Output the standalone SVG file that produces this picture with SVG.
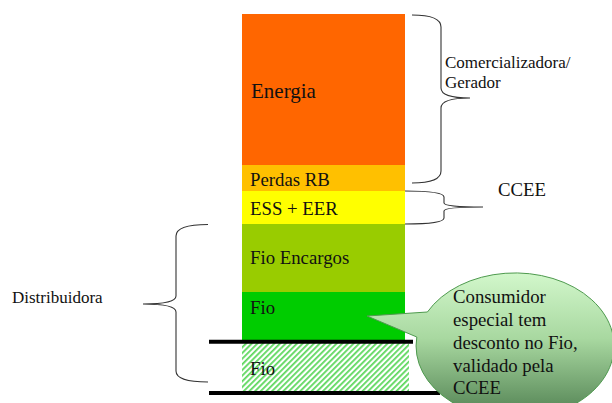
<svg xmlns="http://www.w3.org/2000/svg" width="612" height="403" viewBox="0 0 612 403">
<defs>
<pattern id="hatch" width="4" height="4" patternUnits="userSpaceOnUse" patternTransform="rotate(45)">
<rect width="4" height="4" fill="#ffffff"/>
<rect width="1.8" height="4" fill="#5ed85e"/>
</pattern>
<linearGradient id="bubble" gradientUnits="userSpaceOnUse" x1="0" y1="273" x2="0" y2="419">
<stop offset="0" stop-color="#d2f7cb"/>
<stop offset="0.45" stop-color="#a8d8a0"/>
<stop offset="1" stop-color="#4f7f50"/>
</linearGradient>
</defs>
<rect width="612" height="403" fill="#fff"/>
<g id="energia"><rect x="242" y="14" width="163" height="151" fill="#ff6600"/><text x="251" y="97.5" font-size="21" font-family="Liberation Serif" fill="#111">Energia</text></g>
<g id="perdas"><rect x="242" y="165" width="163" height="26" fill="#ffc000"/><text x="250" y="185.5" font-size="18.8" font-family="Liberation Serif" fill="#111">Perdas RB</text></g>
<g id="ess"><rect x="242" y="191" width="163" height="33" fill="#ffff00"/><text x="250" y="215" font-size="18.8" font-family="Liberation Serif" fill="#111">ESS + EER</text></g>
<g id="fioencargos"><rect x="242" y="224" width="163" height="68" fill="#99cc00"/><text x="250" y="264" font-size="18.8" font-family="Liberation Serif" fill="#111">Fio Encargos</text></g>
<g id="fio"><rect x="242" y="292" width="163" height="49" fill="#00cc00"/><text x="250" y="314" font-size="18.8" font-family="Liberation Serif" fill="#111">Fio</text></g>
<g id="fiohatch"><rect x="242" y="343" width="167" height="48" fill="url(#hatch)"/><text x="250" y="375" font-size="18.8" font-family="Liberation Serif" fill="#111">Fio</text></g>
<g id="lines" stroke="#000" stroke-width="4"><line x1="209" y1="341.8" x2="413" y2="341.8"/><line x1="209" y1="393" x2="440" y2="393"/></g>
<g id="connectors" fill="none" stroke="#333" stroke-width="1.1">
<path d="M412 15 Q441 15 441 27 L441 88 Q441 98 470 98 Q441 98 441 108 L441 171 Q441 183 412 183"/>
<path d="M405 191 Q444 191 444 197 L444 203 Q444 207 483 207 Q444 207 444 211 L444 218 Q444 224 405 224"/>
<path d="M208 224.5 Q176 224.5 176 236 L176 296 Q176 304 143 304 Q176 304 176 312 L176 371 Q176 382 208 382"/>
</g>
<g id="comercializadora"><text x="445" y="68" font-size="17" font-family="Liberation Serif" fill="#111">Comercializadora/</text><text x="445" y="88" font-size="17" font-family="Liberation Serif" fill="#111">Gerador</text></g>
<g id="ccee"><text x="498" y="196" font-size="18.8" font-family="Liberation Serif" fill="#111">CCEE</text></g>
<g id="distribuidora"><text x="12" y="303" font-size="17" font-family="Liberation Serif" fill="#111">Distribuidora</text></g>
<g id="callout">
<path d="M367 316 L427.4 312 A99 73 0 1 1 416.8 337 Z" fill="url(#bubble)" stroke="#4e9a4e" stroke-width="1"/>
<text x="453" y="303" font-size="18.8" font-family="Liberation Serif" fill="#111">Consumidor</text>
<text x="453" y="326" font-size="18.8" font-family="Liberation Serif" fill="#111">especial tem</text>
<text x="453" y="349" font-size="18.8" font-family="Liberation Serif" fill="#111">desconto no Fio,</text>
<text x="453" y="371.5" font-size="18.8" font-family="Liberation Serif" fill="#111">validado pela</text>
<text x="453" y="394" font-size="18.8" font-family="Liberation Serif" fill="#111">CCEE</text>
</g>
</svg>
